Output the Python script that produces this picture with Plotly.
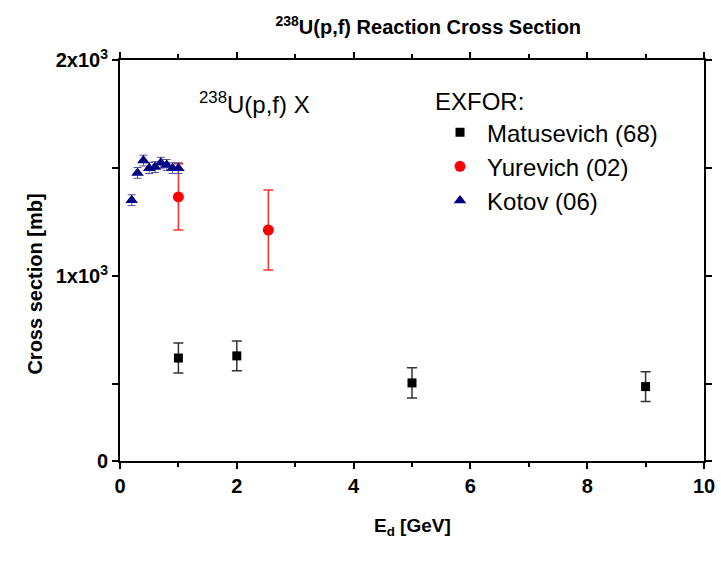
import plotly.graph_objects as go

# ---- data ----
mat_x = [1.0, 2.0, 5.0, 9.0]
mat_y = [622, 632, 507, 490]
mat_err = [69, 69, 70, 69]

yur_x = [1.0, 2.54]
yur_y = [1367, 1214]
yur_err = [153, 185]

kot_x = [0.2, 0.3, 0.4, 0.5, 0.6, 0.7, 0.8, 0.9, 1.0]
kot_y = [1352, 1478, 1535, 1500, 1505, 1525, 1515, 1500, 1500]
kot_err = [25, 25, 25, 25, 25, 25, 25, 25, 25]

x_tickvals = [0, 2, 4, 6, 8, 10]
x_minor = [1, 3, 5, 7, 9]
y_tickvals = [146, 1000, 2000]
y_ticktext = ["0", "1x10<sup>3</sup>", "2x10<sup>3</sup>"]
y_minor = [500, 1500]
y_range = [146, 2000]
x_range = [0, 10]

ARIAL = "Liberation Sans, Arial, sans-serif"

fig = go.Figure()
fig.add_trace(go.Scatter(
    x=mat_x, y=mat_y, mode="markers", name="Matusevich (68)",
    marker=dict(symbol="square", size=9, color="black"),
    error_y=dict(type="data", array=mat_err, color="#333333", thickness=1.5, width=5),
))
fig.add_trace(go.Scatter(
    x=yur_x, y=yur_y, mode="markers", name="Yurevich (02)",
    marker=dict(symbol="circle", size=11, color="#ff0000"),
    error_y=dict(type="data", array=yur_err, color="#ff3030", thickness=1.5, width=5),
))
fig.add_trace(go.Scatter(
    x=kot_x, y=kot_y, mode="markers", name="Kotov (06)",
    marker=dict(symbol="triangle-up", size=11, color="#000080"),
    error_y=dict(type="data", array=kot_err, color="#5050a0", thickness=1, width=4),
))

axis_common = dict(
    showline=True, linewidth=2, linecolor="black", mirror="ticks",
    ticks="outside", tickwidth=1.5, tickcolor="black", ticklen=6,
    showgrid=False, zeroline=False, automargin=False,
    tickfont=dict(family=ARIAL, size=20, color="black", weight="bold"),
)

fig.update_xaxes(
    range=x_range, tickvals=x_tickvals,
    minor=dict(tickvals=x_minor, ticklen=4, ticks="outside", tickcolor="black", tickwidth=1.5),
    **axis_common,
)
fig.update_yaxes(
    range=y_range, tickvals=y_tickvals, ticktext=y_ticktext,
    minor=dict(tickvals=y_minor, ticklen=6, ticks="outside", tickcolor="black", tickwidth=1.5),
    **axis_common,
)

# axis titles
fig.add_annotation(
    x=-0.1455, y=0.44, xref="paper", yref="paper", xanchor="center", yanchor="middle",
    text="Cross section [mb]", textangle=-90, showarrow=False,
    font=dict(family=ARIAL, size=20, color="black", weight="bold"),
)
fig.add_annotation(
    x=0.5, y=-0.165, xref="paper", yref="paper", xanchor="center", yanchor="middle",
    text="E<sub>d</sub> [GeV]", showarrow=False,
    font=dict(family=ARIAL, size=19, color="black", weight="bold"),
)

fig.add_annotation(
    x=0.132, y=0.892, xref="paper", yref="paper", xanchor="left", yanchor="middle",
    text="<sup>238</sup>U(p,f) X", showarrow=False,
    font=dict(family=ARIAL, size=24, color="black"),
)

fig.update_layout(
    width=721, height=566,
    margin=dict(l=120, r=17, t=60, b=105),
    paper_bgcolor="white", plot_bgcolor="white",
    title=dict(text="<sup>238</sup>U(p,f) Reaction Cross Section", x=0.594, xanchor="center", y=0.952, yanchor="middle",
               font=dict(family=ARIAL, size=20, color="black", weight="bold")),
    legend=dict(
        x=0.536, y=0.953, xanchor="left", yanchor="top",
        title=dict(text="EXFOR:", font=dict(family=ARIAL, size=24, color="black")),
        font=dict(family=ARIAL, size=24, color="black"),
        bgcolor="rgba(0,0,0,0)", tracegroupgap=0, itemwidth=44,
    ),
)

fig.write_html("out.html")
